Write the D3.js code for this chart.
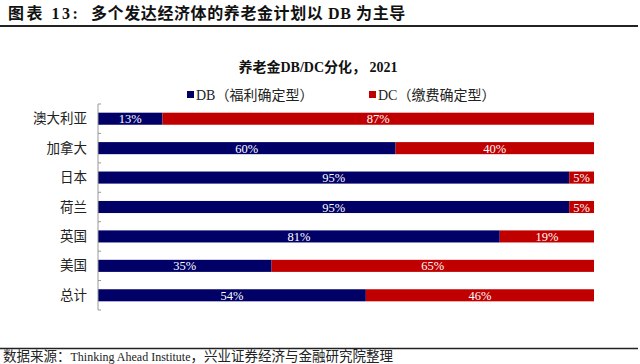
<!DOCTYPE html>
<html><head><meta charset="utf-8">
<script src="https://cdn.jsdelivr.net/npm/d3@7"></script>
<style>
html,body{margin:0;padding:0;background:#fff;}
svg{display:block;}
</style></head>
<body>
<svg id="c" width="640" height="364"></svg>
<script>
const categories = ["澳大利亚","加拿大","日本","荷兰","英国","美国","总计"];
const dbValues = [13,60,95,95,81,35,54];
const dcValues = [87,40,5,5,19,65,46];
const seriesNames = ["DB（福利确定型）","DC（缴费确定型）"];
const seriesColors = ["#000066","#c00000"];

const svg = d3.select("#c");
const serif = "'Liberation Serif','Times New Roman','Noto Sans CJK SC',serif";
const cjk = "'Liberation Serif','Noto Sans CJK SC',serif";

// header
const ht = svg.append("text").attr("y",19).attr("font-family",cjk).attr("font-weight","bold")
  .attr("font-size",16).attr("fill","#111");
ht.append("tspan").attr("x",8).attr("letter-spacing",2.5).text("图表 13:");
ht.append("tspan").attr("x",91).attr("letter-spacing",0.6).text("多个发达经济体的养老金计划以 DB 为主导");
svg.append("line").attr("x1",0).attr("x2",638).attr("y1",26).attr("y2",26).attr("stroke","#222").attr("stroke-width",2);

// footer
svg.append("line").attr("x1",0).attr("x2",638).attr("y1",348.5).attr("y2",348.5).attr("stroke","#222").attr("stroke-width",1.5);
const ft = svg.append("text").attr("x",3).attr("y",361).attr("font-family",cjk).attr("fill","#222");
ft.append("tspan").attr("font-size",13.5).text("数据来源：");
ft.append("tspan").attr("font-size",12).text("Thinking Ahead Institute");
ft.append("tspan").attr("font-size",13.5).text("，兴业证券经济与金融研究院整理");

// chart title
svg.append("text").attr("x",318).attr("y",72).attr("text-anchor","middle").attr("font-family",cjk)
  .attr("font-weight","bold").attr("font-size",14).attr("fill","#111").text("养老金DB/DC分化， 2021");

// legend
const legX = [187,369];
seriesNames.forEach((n,i)=>{
  svg.append("rect").attr("x",legX[i]).attr("y",91).attr("width",7).attr("height",7).attr("fill",seriesColors[i]);
  svg.append("text").attr("x",legX[i]+9).attr("y",99.5).attr("font-family",cjk).attr("font-size",14)
    .attr("fill","#222").text(n);
});

const x = d3.scaleLinear().domain([0,100]).range([98,594]);
const y = d3.scaleBand().domain(categories).range([104,310]).paddingInner(0.59).paddingOuter(0.295);

const rows = categories.map((c,i)=>({c, db:dbValues[i], dc:dcValues[i]}));
const g = svg.append("g");
rows.forEach(r=>{
  const segs = [{s:0,e:r.db,col:seriesColors[0],v:r.db},{s:r.db,e:r.db+r.dc,col:seriesColors[1],v:r.dc}];
  segs.forEach(s=>{
    g.append("rect").attr("x",x(s.s)).attr("y",y(r.c)).attr("width",x(s.e)-x(s.s)).attr("height",y.bandwidth())
      .attr("fill",s.col);
    g.append("text").attr("x",(x(s.s)+x(s.e))/2).attr("y",y(r.c)+y.bandwidth()/2+4.5)
      .attr("text-anchor","middle").attr("font-family",serif).attr("font-size",12.5).attr("fill","#fff")
      .text(s.v+"%");
  });
});

// y axis
const ax = svg.append("g");
ax.append("line").attr("x1",98).attr("x2",98).attr("y1",104).attr("y2",310).attr("stroke","#999").attr("stroke-width",1);
const step = y.step();
d3.range(categories.length+1).forEach(i=>{
  const yy = 104 + i*step;
  ax.append("line").attr("x1",98).attr("x2",101).attr("y1",yy).attr("y2",yy).attr("stroke","#999");
});
categories.forEach(c=>{
  ax.append("text").attr("x",87).attr("y",y(c)+y.bandwidth()/2+4.5).attr("text-anchor","end")
    .attr("font-family",cjk).attr("font-size",13.5).attr("fill","#222").text(c);
});
</script>
</body></html>
